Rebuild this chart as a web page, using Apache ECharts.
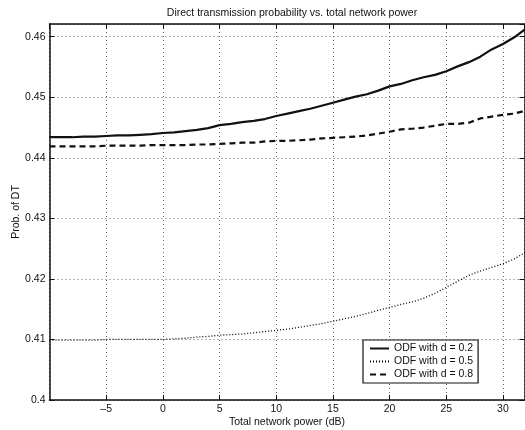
<!DOCTYPE html>
<html>
<head>
<meta charset="utf-8">
<script src="https://cdn.jsdelivr.net/npm/echarts@6/dist/echarts.min.js"></script>
<style>
  html, body { margin: 0; padding: 0; background: #fff; }
  #chart { width: 525px; height: 430px; }
</style>
</head>
<body>
<div id="chart"></div>
<script>
// Total network power (dB), sampled every 1 dB
const powerDb = [-10, -9, -8, -7, -6, -5, -4, -3, -2, -1, 0, 1, 2, 3, 4, 5, 6, 7, 8, 9, 10,
  11, 12, 13, 14, 15, 16, 17, 18, 19, 20, 21, 22, 23, 24, 25, 26, 27, 28, 29, 30, 31, 32];

// Probability of direct transmission for each ODF distance d
const odfD02 = [0.4434, 0.4434, 0.4434, 0.4435, 0.4435, 0.4436, 0.4437, 0.4437, 0.4438, 0.4439,
  0.4441, 0.4442, 0.4444, 0.4446, 0.4449, 0.4454, 0.4456, 0.4459, 0.4461, 0.4464,
  0.4469, 0.4473, 0.4477, 0.4481, 0.4486, 0.4491, 0.4496, 0.4501, 0.4505, 0.4511,
  0.4518, 0.4522, 0.4528, 0.4533, 0.4537, 0.4543, 0.4551, 0.4558, 0.4567, 0.4579,
  0.4588, 0.4599, 0.4613];
const odfD05 = [0.4099, 0.4099, 0.4099, 0.4099, 0.4099, 0.4100, 0.4100, 0.4100, 0.4100, 0.4100,
  0.4100, 0.4101, 0.4102, 0.4104, 0.4105, 0.4107, 0.4108, 0.4109, 0.4111, 0.4113,
  0.4115, 0.4117, 0.4120, 0.4123, 0.4126, 0.4130, 0.4134, 0.4138, 0.4143, 0.4148,
  0.4153, 0.4158, 0.4162, 0.4168, 0.4176, 0.4186, 0.4196, 0.4206, 0.4213, 0.4219,
  0.4225, 0.4233, 0.4244];
const odfD08 = [0.4419, 0.4419, 0.4419, 0.4419, 0.4419, 0.4420, 0.4420, 0.4420, 0.4420, 0.4421,
  0.4421, 0.4421, 0.4421, 0.4422, 0.4422, 0.4423, 0.4424, 0.4425, 0.4425, 0.4427,
  0.4428, 0.4428, 0.4429, 0.4430, 0.4432, 0.4433, 0.4434, 0.4435, 0.4437, 0.4440,
  0.4443, 0.4447, 0.4448, 0.4450, 0.4453, 0.4456, 0.4456, 0.4458, 0.4465, 0.4468,
  0.4471, 0.4473, 0.4478];

const seriesNames = ['ODF with d = 0.2', 'ODF with d = 0.5', 'ODF with d = 0.8'];

const FONT = 'Liberation Sans';
const FS = 10.5;
const INK = '#111';

function pairs(ys) {
  return powerDb.map((x, i) => [x, ys[i]]);
}

const gridLine = { show: true, lineStyle: { color: '#666', width: 1, type: [1, 3] } };

const xBase = {
  type: 'value', min: -10, max: 31.9, interval: 5,
  axisLine: { show: true, onZero: false, lineStyle: { color: INK, width: 1.5 } },
  axisTick: { show: true, inside: true, length: 5, lineStyle: { color: INK } }
};
const yBase = {
  type: 'value', min: 0.4, max: 0.4621, interval: 0.01,
  axisLine: { show: true, onZero: false, lineStyle: { color: INK, width: 1.5 } },
  axisTick: { show: true, inside: true, length: 5, lineStyle: { color: INK } }
};

const chart = echarts.init(document.getElementById('chart'), null, { renderer: 'canvas' });
chart.setOption({
  animation: false,
  backgroundColor: '#fff',
  textStyle: { fontFamily: FONT },
  title: {
    text: 'Direct transmission probability vs. total network power',
    left: 287, top: 3, textAlign: 'center',
    textStyle: { fontFamily: FONT, fontSize: FS, fontWeight: 'normal', color: INK }
  },
  grid: {
    left: 49.5, right: 0.5, top: 24, bottom: 30,
    containLabel: false, outerBoundsMode: 'none'
  },
  legend: {
    orient: 'vertical', left: 363, top: 340,
    backgroundColor: '#fff', borderColor: INK, borderWidth: 1.2,
    padding: [3, 5, 3, 6], itemGap: 2, itemWidth: 19, itemHeight: 10,
    itemStyle: { opacity: 0 },
    textStyle: { fontFamily: FONT, fontSize: FS, color: INK },
    data: seriesNames
  },
  xAxis: [
    Object.assign({}, xBase, {
      position: 'bottom',
      name: 'Total network power (dB)', nameLocation: 'middle', nameGap: 17,
      nameMoveOverlap: false,
      nameTextStyle: { fontFamily: FONT, fontSize: FS, color: INK },
      axisLabel: {
        show: true, margin: 4, fontFamily: FONT, fontSize: FS, color: INK,
        showMinLabel: false, showMaxLabel: false,
        formatter: v => String(v).replace('-', '\u2013')
      },
      splitLine: gridLine
    }),
    Object.assign({}, xBase, {
      position: 'top', axisLabel: { show: false }, splitLine: { show: false }
    })
  ],
  yAxis: [
    Object.assign({}, yBase, {
      position: 'left',
      name: 'Prob. of DT', nameLocation: 'middle', nameGap: 28,
      nameMoveOverlap: false,
      nameTextStyle: { fontFamily: FONT, fontSize: FS, color: INK },
      axisLabel: {
        show: true, margin: 4, fontFamily: FONT, fontSize: FS, color: INK,
        showMaxLabel: false,
        formatter: v => String(Number(v.toFixed(2)))
      },
      splitLine: gridLine
    }),
    Object.assign({}, yBase, {
      position: 'right', axisLabel: { show: false }, splitLine: { show: false }
    })
  ],
  series: [
    {
      name: seriesNames[0], type: 'line', data: pairs(odfD02),
      symbol: 'none', clip: true,
      lineStyle: { color: INK, width: 2.2, type: 'solid' },
      itemStyle: { color: INK }
    },
    {
      name: seriesNames[1], type: 'line', data: pairs(odfD05),
      symbol: 'none', clip: true,
      lineStyle: { color: '#000', width: 1.3, type: [1, 2] },
      itemStyle: { color: INK }
    },
    {
      name: seriesNames[2], type: 'line', data: pairs(odfD08),
      symbol: 'none', clip: true,
      lineStyle: { color: INK, width: 2.2, type: [6, 4] },
      itemStyle: { color: INK }
    }
  ]
});
</script>
</body>
</html>
